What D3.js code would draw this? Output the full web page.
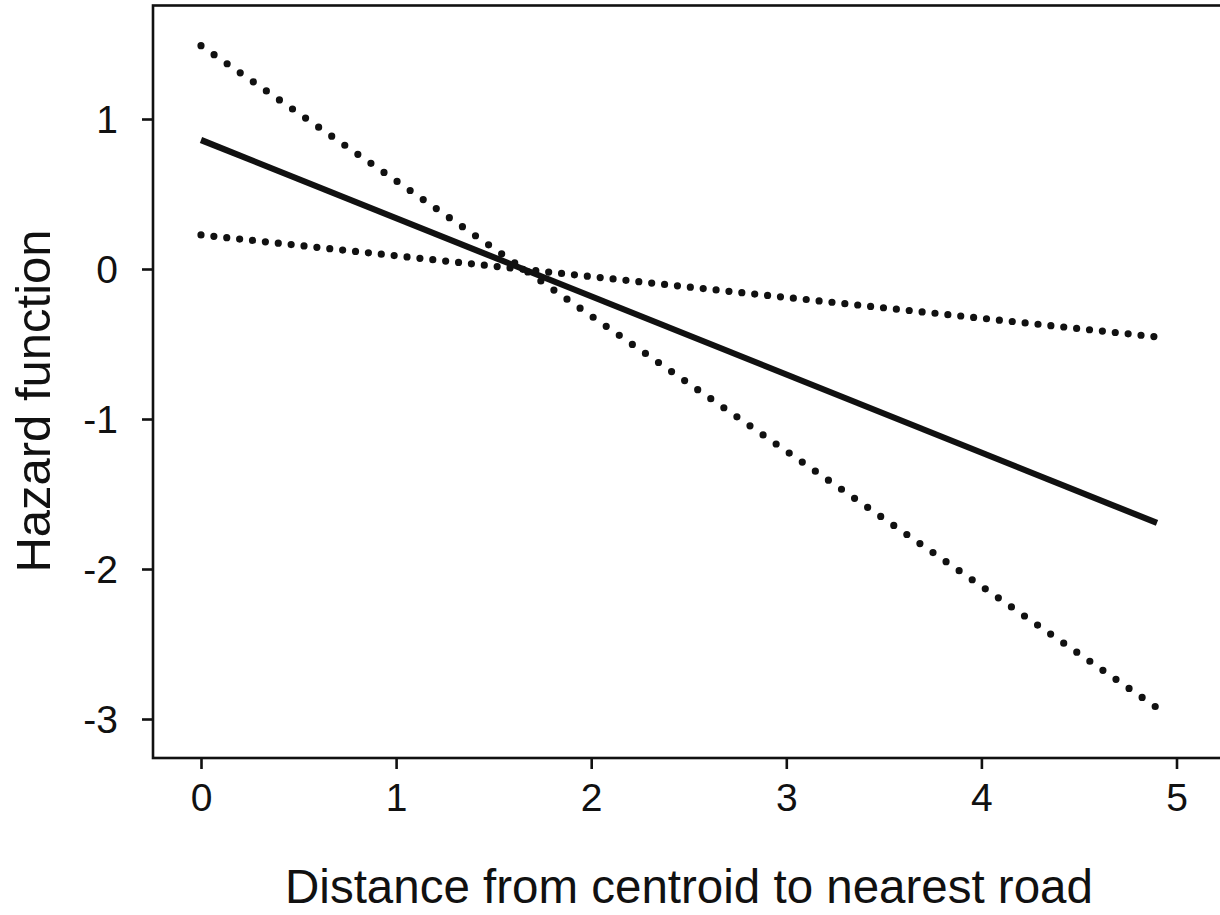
<!DOCTYPE html>
<html>
<head>
<meta charset="utf-8">
<script src="https://cdn.jsdelivr.net/npm/d3@7"></script>
<style>
  html, body { margin: 0; padding: 0; background: #fff; overflow: hidden; }
  svg { display: block; }
  text { font-family: "Liberation Sans", Arial, sans-serif; fill: #111; }
</style>
</head>
<body>
<svg id="chart" width="1220" height="915"></svg>
<script>
// ---- Data ----
const distance = [0, 4.9];
const estimate = [0.86, -1.693];
const upperBand = [1.489, -2.925];
const lowerBand = [0.227, -0.453];
const xTicks = [0, 1, 2, 3, 4, 5];
const yTicks = [1, 0, -1, -2, -3];
const xTitle = "Distance from centroid to nearest road";
const yTitle = "Hazard function";

// ---- Layout ----
const plotLeft = 153, plotRight = 1222, plotTop = 5.5, plotBottom = 758;

const svg = d3.select("#chart");

const x = d3.scaleLinear().domain([0, 5]).range([201, 1176.5]);
const y = d3.scaleLinear().domain([1, -3]).range([119, 719]);

// frame (left, top, bottom visible; right edge off-canvas)
svg.append("rect")
  .attr("x", plotLeft).attr("y", plotTop)
  .attr("width", plotRight - plotLeft).attr("height", plotBottom - plotTop)
  .attr("fill", "none").attr("stroke", "#111").attr("stroke-width", 2.6);

const fmt = d => String(d);

// x axis
const xAxis = d3.axisBottom(x).tickValues(xTicks).tickSize(11).tickPadding(14).tickFormat(fmt);
const gx = svg.append("g").attr("transform", `translate(0,${plotBottom})`).call(xAxis);
gx.select(".domain").remove();
gx.selectAll(".tick line").attr("stroke", "#111").attr("stroke-width", 2.6);
gx.selectAll(".tick text").attr("font-size", 39).attr("fill", "#111")
  .attr("font-family", "Liberation Sans, Arial, sans-serif");

// y axis
const yAxis = d3.axisLeft(y).tickValues(yTicks).tickSize(11).tickPadding(24).tickFormat(fmt);
const gy = svg.append("g").attr("transform", `translate(${plotLeft},0)`).call(yAxis);
gy.select(".domain").remove();
gy.selectAll(".tick line").attr("stroke", "#111").attr("stroke-width", 2.6);
gy.selectAll(".tick text").attr("font-size", 39).attr("fill", "#111")
  .attr("font-family", "Liberation Sans, Arial, sans-serif")
  .attr("dy", "0.34em");

// lines
const line = d3.line().x((d, i) => x(distance[i])).y(d => y(d));
const series = [
  { values: upperBand, width: 7.2, dash: "0 15.9" },
  { values: lowerBand, width: 7.2, dash: "0 12.95" },
  { values: estimate, width: 6.2, dash: null }
];
series.forEach(s => {
  const p = svg.append("path")
    .attr("d", line(s.values))
    .attr("fill", "none")
    .attr("stroke", "#111")
    .attr("stroke-width", s.width);
  if (s.dash) {
    p.attr("stroke-dasharray", s.dash).attr("stroke-linecap", "round");
  }
});

// titles
svg.append("text")
  .attr("x", 689).attr("y", 903)
  .attr("text-anchor", "middle")
  .attr("font-size", 47.5)
  .text(xTitle);

svg.append("text")
  .attr("transform", "translate(50,401) rotate(-90)")
  .attr("text-anchor", "middle")
  .attr("font-size", 49)
  .text(yTitle);
</script>
</body>
</html>
